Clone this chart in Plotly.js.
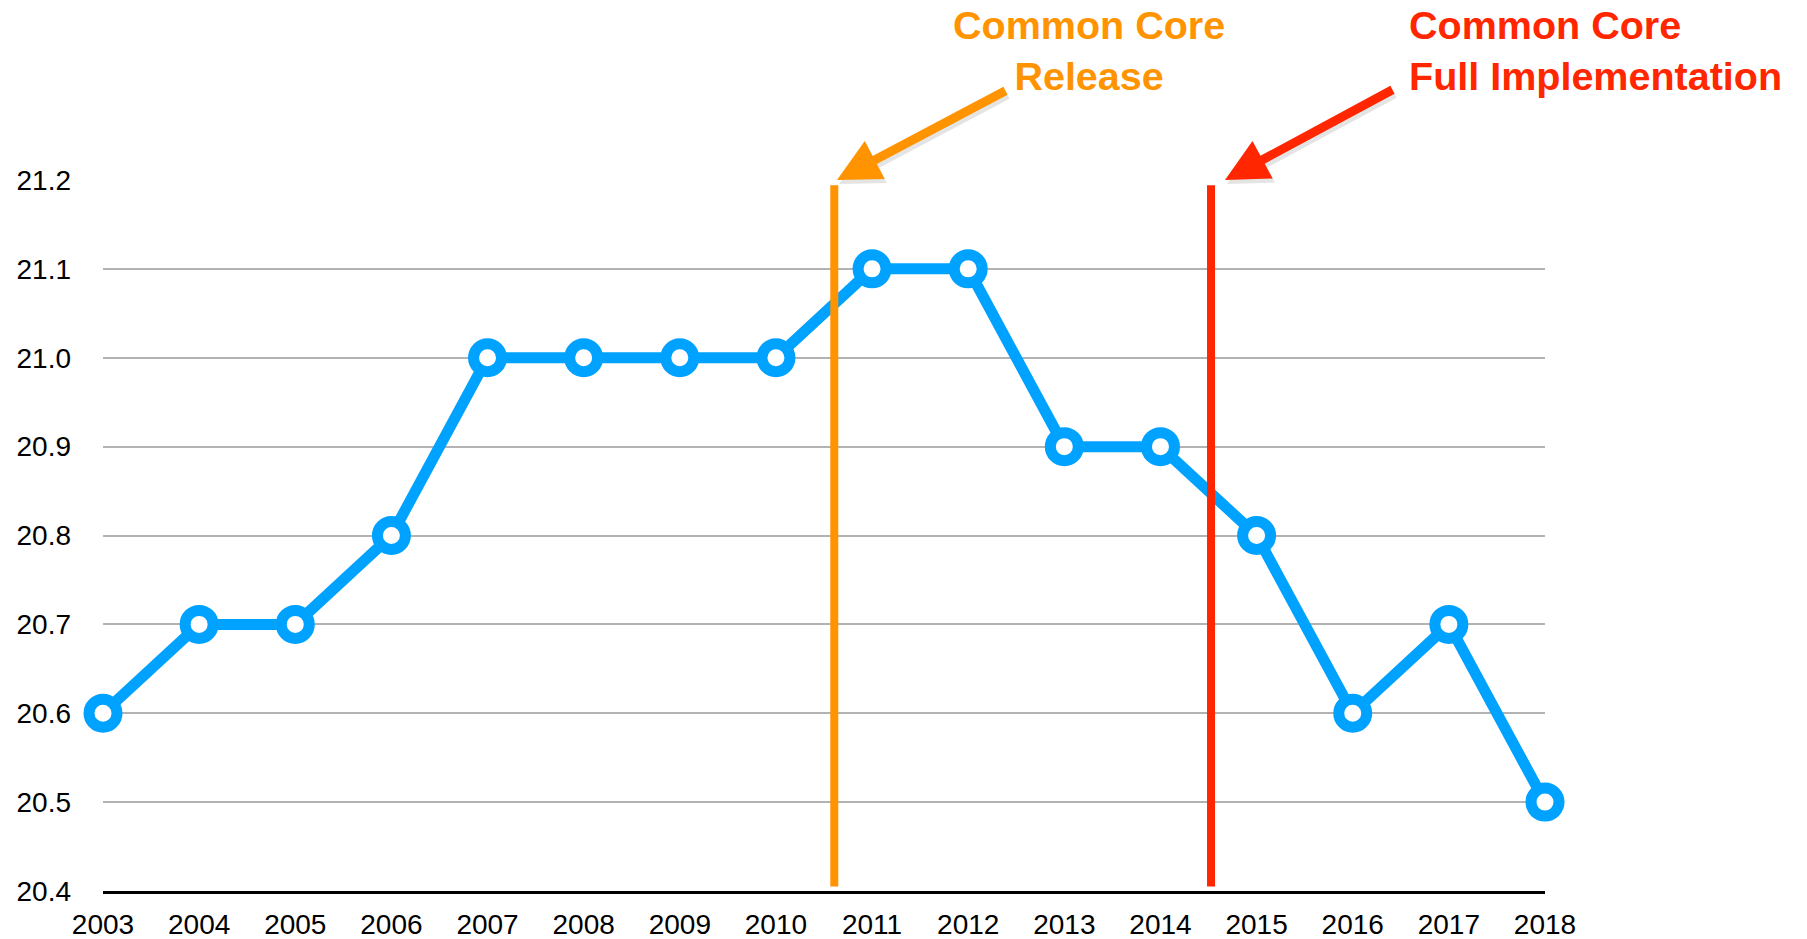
<!DOCTYPE html>
<html>
<head>
<meta charset="utf-8">
<script src="https://cdn.plot.ly/plotly-3.0.1.min.js"></script>
<style>
  html, body { margin: 0; padding: 0; background: #ffffff; }
  #chart { width: 1807px; height: 939px; }
</style>
</head>
<body>
<div id="chart"></div>
<script>
// ---- data ----
const years = [2003, 2004, 2005, 2006, 2007, 2008, 2009, 2010, 2011, 2012, 2013, 2014, 2015, 2016, 2017, 2018];
const scores = [20.6, 20.7, 20.7, 20.8, 21.0, 21.0, 21.0, 21.0, 21.1, 21.1, 20.9, 20.9, 20.8, 20.6, 20.7, 20.5];
const yTicks = [20.4, 20.5, 20.6, 20.7, 20.8, 20.9, 21.0, 21.1, 21.2];
const xTickLabels = ["2003","2004","2005","2006","2007","2008","2009","2010","2011","2012","2013","2014","2015","2016","2017","2018"];
const eventNames = ["Common Core<br>Release", "Common Core<br>Full Implementation"];
const eventX = [2010.607, 2014.526];
const arrowTipX = [2010.635, 2014.671];

const BLUE = "#00A2FF";
const ORANGE = "#FF9300";
const RED = "#FF2600";
const FONT = "Liberation Sans, Arial, Helvetica, sans-serif";

const trace = {
  x: years,
  y: scores,
  type: "scatter",
  mode: "lines+markers",
  line: { color: BLUE, width: 11 },
  marker: { symbol: "circle", size: 28, color: "#ffffff", line: { color: BLUE, width: 11 } },
  cliponaxis: false,
  hoverinfo: "x+y"
};

const shapes = [
  { type: "line", xref: "x", yref: "y", x0: eventX[0], x1: eventX[0], y0: 20.405, y1: 21.194,
    line: { color: ORANGE, width: 8 }, layer: "above" },
  { type: "line", xref: "x", yref: "y", x0: eventX[1], x1: eventX[1], y0: 20.405, y1: 21.194,
    line: { color: RED, width: 8 }, layer: "above" }
];

function arrow(x, color, ax, ay, xshift, yshift) {
  return { x: x, y: 21.2, xref: "x", yref: "y", text: "", showarrow: true,
    axref: "pixel", ayref: "pixel", ax: ax, ay: ay,
    arrowhead: 2, arrowsize: 0.95, arrowwidth: 9, arrowcolor: color, standoff: 0,
    xshift: xshift || 0, yshift: yshift || 0 };
}

const annotations = [
  arrow(arrowTipX[0], "rgba(0,0,0,0.10)", 170, -90, 2, -4),
  arrow(arrowTipX[1], "rgba(0,0,0,0.10)", 169, -91, 2, -4),
  arrow(arrowTipX[0], ORANGE, 170, -90),
  arrow(arrowTipX[1], RED, 169, -91),
  { text: eventNames[0], xref: "paper", yref: "paper", x: 0.6838, y: 1.1828,
    xanchor: "center", yanchor: "middle", align: "center", showarrow: false,
    font: { family: FONT, size: 39.5, color: ORANGE, weight: "bold" } },
  { text: eventNames[1], xref: "paper", yref: "paper", x: 0.9045, y: 1.1828,
    xanchor: "left", yanchor: "middle", align: "left", showarrow: false,
    font: { family: FONT, size: 39.5, color: RED, weight: "bold" } }
];

const layout = {
  width: 1807,
  height: 939,
  margin: { l: 103, r: 262, t: 180, b: 48 },
  paper_bgcolor: "#ffffff",
  plot_bgcolor: "#ffffff",
  showlegend: false,
  font: { family: FONT, size: 28, color: "#000000" },
  xaxis: {
    range: [2003, 2018],
    tickvals: years,
    ticktext: xTickLabels,
    showgrid: false,
    zeroline: false,
    showline: true,
    linecolor: "#000000",
    linewidth: 3,
    ticks: "",
    ticklabelstandoff: 6,
    tickfont: { family: FONT, size: 28, color: "#000000" }
  },
  yaxis: {
    range: [20.4, 21.2],
    tickvals: yTicks,
    tickformat: ".1f",
    showgrid: true,
    gridcolor: "#b3b3b3",
    gridwidth: 2,
    zeroline: false,
    showline: false,
    ticks: "",
    ticklabelstandoff: 31,
    tickfont: { family: FONT, size: 28, color: "#000000" }
  },
  shapes: shapes,
  annotations: annotations
};

Plotly.newPlot("chart", [trace], layout, { displayModeBar: false, staticPlot: false });
</script>
</body>
</html>
